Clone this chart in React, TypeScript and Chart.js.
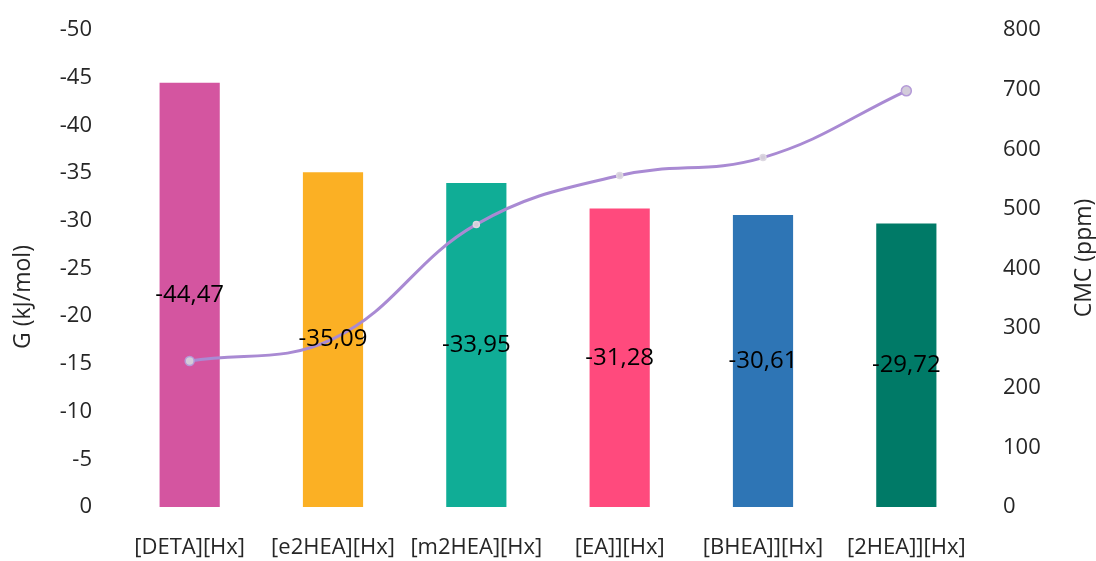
import React, { useEffect, useRef } from "react";
import { Chart, registerables } from "chart.js";

Chart.register(...registerables);

const categories = ["[DETA][Hx]", "[e2HEA][Hx]", "[m2HEA][Hx]", "[EA]][Hx]", "[BHEA]][Hx]", "[2HEA]][Hx]"];
const gibbsValues = [-44.47, -35.09, -33.95, -31.28, -30.61, -29.72];
const cmcValues = [245, 282, 474, 556, 586, 698];
const barColors = ["#D455A0", "#FBB024", "#10AD96", "#FF4A7D", "#2E75B5", "#007A67"];

const FONT = "'Open Sans', 'Noto Sans', sans-serif";

const labelsPlugin = {
  id: "barValueLabels",
  afterDatasetsDraw(chart: any) {
    const ctx = chart.ctx;
    const meta = chart.getDatasetMeta(0);
    ctx.save();
    ctx.font = `24px ${FONT}`;
    ctx.fillStyle = "#000";
    ctx.textAlign = "center";
    ctx.textBaseline = "middle";
    meta.data.forEach((bar: any, i: number) => {
      const y = (bar.y + bar.base) / 2;
      ctx.fillText(gibbsValues[i].toFixed(2).replace(".", ","), bar.x, y);
    });
    ctx.restore();
  },
};

const titlesPlugin = {
  id: "axisTitles",
  afterDraw(chart: any) {
    const ctx = chart.ctx;
    const drawTitle = (text: string, x: number, y: number) => {
      ctx.save();
      ctx.font = `23px ${FONT}`;
      ctx.fillStyle = "#262626";
      ctx.textAlign = "center";
      ctx.textBaseline = "middle";
      ctx.translate(x, y);
      ctx.rotate(-Math.PI / 2);
      ctx.fillText(text, 0, 0);
      ctx.restore();
    };
    drawTitle("G (kJ/mol)", 23, 297);
    drawTitle("CMC (ppm)", 1084, 258);
  },
};

const fitVertical = (width: number) => (scale: any) => {
  scale.width = width;
  scale.paddingTop = 0;
  scale.paddingBottom = 0;
};

export default function App() {
  const canvasRef = useRef<HTMLCanvasElement | null>(null);

  useEffect(() => {
    if (!canvasRef.current) return;
    const chart = new Chart(canvasRef.current, {
      type: "bar",
      data: {
        labels: categories,
        datasets: [
          {
            type: "bar",
            label: "G",
            data: gibbsValues,
            backgroundColor: barColors,
            borderWidth: 0,
            barPercentage: 0.84,
            categoryPercentage: 0.5,
            yAxisID: "y",
            order: 2,
          },
          {
            type: "line",
            label: "CMC",
            data: cmcValues,
            borderColor: "#A98AD3",
            borderWidth: 3,
            tension: 0.4,
            pointRadius: [4.5, 0, 3, 3, 3, 5],
            pointBackgroundColor: "#D3CCDA",
            pointBorderColor: ["#B49AD8", "#B49AD8", "#DDD8E2", "#DDD8E2", "#DDD8E2", "#B49AD8"],
            pointBorderWidth: 1.5,
            yAxisID: "y1",
            order: 1,
          },
        ],
      },
      options: {
        responsive: false,
        animation: false,
        layout: { padding: { top: 30, left: 0, right: 0, bottom: 0 } },
        plugins: { legend: { display: false }, tooltip: { enabled: false } },
        scales: {
          x: {
            grid: { display: false, drawTicks: false },
            border: { display: false },
            ticks: { color: "#262626", font: { family: FONT, size: 22 }, padding: 28, maxRotation: 0 },
            afterFit(scale: any) {
              scale.height = 54;
              scale.paddingLeft = 0;
              scale.paddingRight = 0;
            },
          },
          y: {
            position: "left",
            min: -50,
            max: 0,
            reverse: true,
            grid: { display: false, drawTicks: false },
            border: { display: false },
            ticks: { stepSize: 5, color: "#262626", font: { family: FONT, size: 22 }, padding: 26 },
            afterFit: fitVertical(118),
          },
          y1: {
            position: "right",
            min: 0,
            max: 800,
            grid: { display: false, drawTicks: false },
            border: { display: false },
            ticks: { stepSize: 100, color: "#262626", font: { family: FONT, size: 22 }, padding: 25 },
            afterFit: fitVertical(118),
          },
        },
      },
      plugins: [labelsPlugin, titlesPlugin],
    } as any);
    return () => chart.destroy();
  }, []);

  return (
    <div style={{ position: "fixed", left: 0, top: 0, width: 1096, height: 561, background: "#fff" }}>
      <canvas ref={canvasRef} width={1096} height={561} />
    </div>
  );
}
